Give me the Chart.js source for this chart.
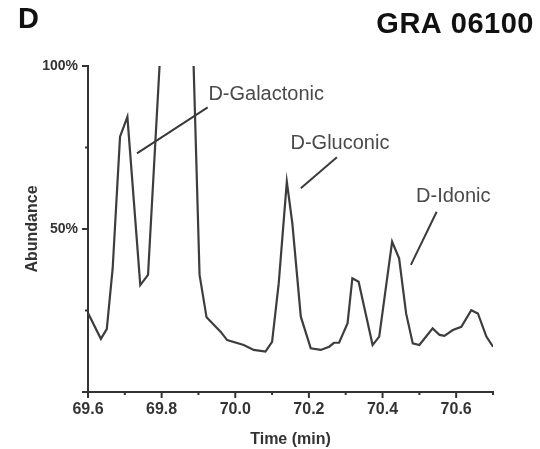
<!DOCTYPE html>
<html>
<head>
<meta charset="utf-8">
<script src="https://cdn.jsdelivr.net/npm/chart.js@4/dist/chart.umd.min.js"></script>
<style>
  html, body { margin: 0; padding: 0; background: #ffffff; }
  #wrap { width: 540px; height: 449px; }
</style>
</head>
<body>
<div id="wrap"><canvas id="chart" width="540" height="449"></canvas></div>
<script>
// Retention time (min) of each sampled point of the chromatogram trace
const times = [
  69.600, 69.635, 69.651, 69.667, 69.687, 69.707, 69.742, 69.763, 69.800, 69.840,
  69.885, 69.903, 69.922, 69.960, 69.978, 70.023, 70.050, 70.082, 70.100, 70.118,
  70.140, 70.155, 70.178, 70.205, 70.232, 70.255, 70.268, 70.282, 70.305, 70.318,
  70.335, 70.373, 70.391, 70.426, 70.445, 70.464, 70.482, 70.500, 70.536, 70.555,
  70.568, 70.591, 70.614, 70.641, 70.659, 70.682, 70.700
];

// Relative abundance (%) at each time; the 69.84 peak runs off scale
const abundance = [
  24.2, 16.3, 19.3, 37.9, 78.3, 84.4, 32.8, 35.9, 111.6, 180.0,
  107.4, 35.9, 22.9, 18.5, 15.9, 14.4, 12.9, 12.4, 15.4, 33.3,
  64.5, 51.7, 23.1, 13.4, 12.9, 13.9, 15.1, 15.1, 21.1, 34.9,
  33.8, 14.4, 17.0, 46.1, 41.0, 24.1, 14.9, 14.4, 19.5, 17.5,
  17.2, 19.0, 20.0, 25.1, 24.1, 17.0, 13.9
];

// Axis ticks that carry a label
const xLabelledTicks = [69.6, 69.8, 70.0, 70.2, 70.4, 70.6];
const yLabelledTicks = [50, 100];

// Peak annotations: name, leader line ends and label anchor (time, %)
const peakNames   = ['D-Galactonic', 'D-Gluconic', 'D-Idonic'];
const leaderStart = [[69.733, 73.2], [70.178, 62.5], [70.477, 39.0]];
const leaderEnd   = [[69.925, 87.3], [70.276, 72.0], [70.547, 55.3]];
const labelAnchor = [[69.927, 91.4], [70.150, 76.2], [70.491, 60.0]];

const FONT = '"Liberation Sans", Arial, Helvetica, sans-serif';
const INK = '#333333';

const points = times.map((t, i) => ({ x: t, y: abundance[i] }));

function isLabelled(list, v) {
  return list.some(l => Math.abs(l - v) < 1e-6);
}

const decorations = {
  id: 'decorations',
  afterDatasetsDraw(chart) {
    const { ctx, scales: { x, y } } = chart;
    ctx.save();
    ctx.strokeStyle = '#3a3a3a';
    ctx.lineWidth = 2;
    ctx.lineCap = 'butt';
    peakNames.forEach((name, i) => {
      ctx.beginPath();
      ctx.moveTo(x.getPixelForValue(leaderStart[i][0]), y.getPixelForValue(leaderStart[i][1]));
      ctx.lineTo(x.getPixelForValue(leaderEnd[i][0]), y.getPixelForValue(leaderEnd[i][1]));
      ctx.stroke();
      ctx.fillStyle = '#4a4a4a';
      ctx.font = '20px ' + FONT;
      ctx.textAlign = 'left';
      ctx.textBaseline = 'middle';
      ctx.fillText(name, x.getPixelForValue(labelAnchor[i][0]), y.getPixelForValue(labelAnchor[i][1]));
    });
    ctx.restore();
  },
  afterDraw(chart) {
    const { ctx, scales: { x, y } } = chart;
    ctx.save();
    ctx.strokeStyle = INK;
    ctx.lineWidth = 2;
    // tick marks on the time axis
    const xb = x.top;
    x.ticks.forEach(t => {
      const px = x.getPixelForValue(t.value);
      const len = isLabelled(xLabelledTicks, t.value) ? 6 : 3;
      ctx.beginPath();
      ctx.moveTo(px, xb);
      ctx.lineTo(px, xb + len);
      ctx.stroke();
    });
    // tick marks on the abundance axis
    const yr = y.right;
    y.ticks.forEach(t => {
      const py = y.getPixelForValue(t.value);
      const len = (isLabelled(yLabelledTicks, t.value) || t.value === 0) ? 6 : 3;
      ctx.beginPath();
      ctx.moveTo(yr, py);
      ctx.lineTo(yr - len, py);
      ctx.stroke();
    });
    // panel letter and sample name
    ctx.fillStyle = '#111111';
    ctx.textBaseline = 'alphabetic';
    ctx.font = 'bold 29px ' + FONT;
    ctx.textAlign = 'left';
    ctx.fillText('D', 18, 28);
    ctx.textAlign = 'right';
    ctx.letterSpacing = '0.5px';
    ctx.fillText('GRA 06100', 534, 33);
    ctx.restore();
  }
};

new Chart(document.getElementById('chart'), {
  type: 'line',
  data: {
    datasets: [{
      data: points,
      borderColor: '#3d3d3d',
      borderWidth: 2.2,
      tension: 0,
      pointRadius: 0,
      fill: false
    }]
  },
  options: {
    responsive: false,
    animation: false,
    devicePixelRatio: 1,
    layout: { padding: { left: 0, right: 47, top: 66, bottom: 0 } },
    plugins: {
      legend: { display: false },
      tooltip: { enabled: false }
    },
    scales: {
      x: {
        type: 'linear',
        min: 69.6,
        max: 70.7,
        border: { display: true, color: INK, width: 2 },
        grid: { drawOnChartArea: false, drawTicks: true, tickLength: 6, tickColor: 'rgba(0,0,0,0)' },
        ticks: {
          stepSize: 0.1,
          autoSkip: false,
          maxRotation: 0,
          padding: 2,
          color: INK,
          font: { family: FONT, size: 16, weight: 'bold' },
          callback: v => isLabelled(xLabelledTicks, v) ? v.toFixed(1) : ''
        },
        title: {
          display: true,
          text: 'Time (min)',
          color: INK,
          font: { family: FONT, size: 16, weight: 'bold' },
          padding: { top: 0, bottom: 0 }
        },
        afterFit: s => { s.height = 57; s.paddingLeft = 0; s.paddingRight = 0; }
      },
      y: {
        min: 0,
        max: 100,
        border: { display: true, color: INK, width: 2 },
        grid: { drawOnChartArea: false, drawTicks: true, tickLength: 6, tickColor: 'rgba(0,0,0,0)' },
        ticks: {
          stepSize: 25,
          padding: 4,
          color: INK,
          font: { family: FONT, size: 14, weight: 'bold' },
          callback: v => isLabelled(yLabelledTicks, v) ? v + '%' : ''
        },
        title: {
          display: true,
          text: 'Abundance',
          color: INK,
          font: { family: FONT, size: 16, weight: 'bold' },
          padding: { top: 23, bottom: 0 }
        },
        afterFit: s => { s.width = 88; s.paddingTop = 0; s.paddingBottom = 0; }
      }
    }
  },
  plugins: [decorations]
});
</script>
</body>
</html>
